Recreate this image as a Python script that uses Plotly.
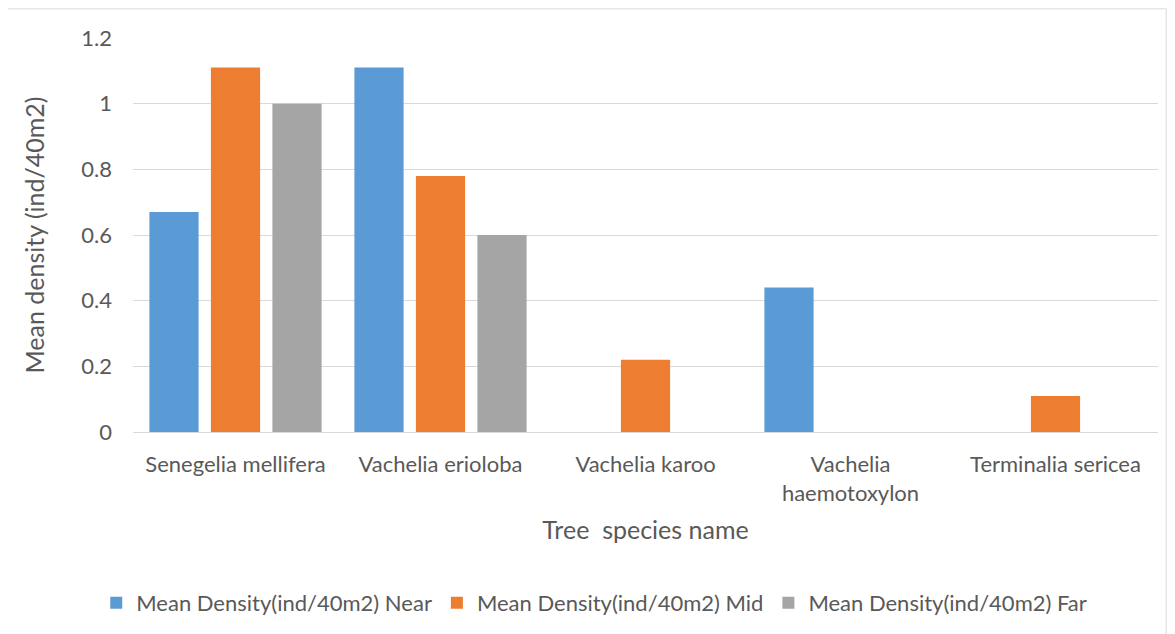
"""
Mean tree density by species at Near / Mid / Far distance classes
"""

import plotly.graph_objects as go

species = [
    'Senegelia mellifera',
    'Vachelia erioloba',
    'Vachelia karoo',
    'Vachelia<br>haemotoxylon',
    'Terminalia sericea',
]
near = [0.67, 1.11, 0, 0.44, 0]
mid = [1.11, 0.78, 0.22, 0, 0.11]
far = [1.0, 0.6, 0, 0, 0]

series_names = [
    'Mean Density(ind/40m2) Near',
    'Mean Density(ind/40m2) Mid',
    'Mean Density(ind/40m2) Far',
]
colors = ['#5b9bd5', '#ed7d31', '#a5a5a5']
y_ticks = [0, 0.2, 0.4, 0.6, 0.8, 1, 1.2]

FONT = 'Lato, Open Sans, sans-serif'
TEXT = '#595959'

fig = go.Figure()
for name, vals, col in zip(series_names, [near, mid, far], colors):
    fig.add_trace(go.Bar(x=species, y=vals, name=name, marker_color=col,
                         marker_line_width=0))

# page body has an 8px margin, so the figure is shrunk by that amount
fig.update_layout(
    width=1167, height=626,
    margin=dict(l=125, r=17, t=30, b=202, autoexpand=False),
    paper_bgcolor='white', plot_bgcolor='white',
    font=dict(family=FONT, color=TEXT, size=22),
    barmode='group', bargap=0.1, bargroupgap=0.2,
    showlegend=True,
    legend=dict(orientation='h', x=0.45, xanchor='center', y=-0.434, yanchor='middle',
                font=dict(size=22, color=TEXT), traceorder='normal',
                itemwidth=30),
)

fig.update_xaxes(
    showgrid=False, showline=True, linecolor='#d9d9d9', linewidth=1,
    ticks='', tickfont=dict(size=22, color=TEXT), ticklabelstandoff=13,
    title=dict(text='Tree  species name', font=dict(size=25, color=TEXT), standoff=16),
)
fig.update_yaxes(
    range=[0, 1.2], tickvals=y_ticks, ticktext=['0', '0.2', '0.4', '0.6', '0.8', '1', '1.2'],
    showgrid=True, gridcolor='#d9d9d9', gridwidth=1, zeroline=False,
    showline=False, ticks='', ticklabelstandoff=20,
    tickfont=dict(size=22, color=TEXT),
    title=dict(text='Mean density (ind/40m2)', font=dict(size=25, color=TEXT), standoff=29),
)

# outer chart border (bottom edge falls below the visible page)
fig.add_shape(type='rect', xref='paper', yref='paper',
              x0=-0.124, x1=1.008, y0=-0.54, y1=1.074,
              line=dict(color='#d9d9d9', width=1), layer='below')

fig.write_html("out.html")
